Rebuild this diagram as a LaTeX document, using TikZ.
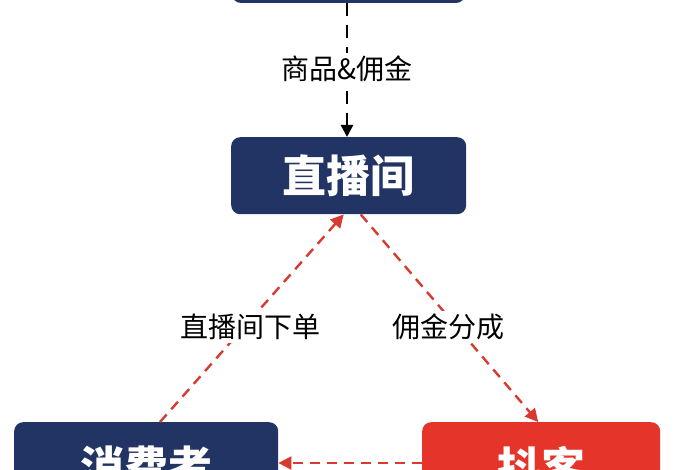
\documentclass[tikz,border=0pt]{standalone}
\usepackage{fontspec}
\newfontfamily\cjk{Noto Sans CJK SC}
\usetikzlibrary{arrows.meta}
\definecolor{navy}{HTML}{213463}
\definecolor{hred}{HTML}{E5352A}
\definecolor{dred}{HTML}{D93A30}
\tikzset{
 box/.style={rounded corners=9pt,draw=none,text=white,font=\cjk\bfseries\fontsize{44}{44}\selectfont,inner sep=0pt,anchor=north west},
 lbl/.style={font=\cjk\fontsize{28}{28}\selectfont,fill=white,inner sep=3pt},
 rarr/.style={dred,line width=2.4pt,dash pattern=on 10pt off 7pt,-{Triangle[length=13pt,width=13pt]}},
 karr/.style={black,line width=2.4pt,dash pattern=on 13pt off 9pt,-{Triangle[length=12pt,width=12pt]}}
}
\begin{document}
\begin{tikzpicture}[x=1pt,y=-1pt]
\useasboundingbox[fill=white] (0,0) rectangle (700,470);
\fill[navy,rounded corners=9pt] (232,-60) rectangle (465,3);
\coordinate (topb) at (347,3);
\node[box,fill=navy,minimum width=235pt,minimum height=77pt] (live) at (231,137) {直播间};
\node[box,fill=navy,minimum width=264pt,minimum height=90pt] (cons) at (14,422) {\raisebox{-3pt}{消费者}};
\node[box,fill=hred,minimum width=238pt,minimum height=90pt] (dk) at (422,422) {\raisebox{-3pt}{抖客}};
\draw[karr] (topb) -- (live.north -| topb);
\node[lbl] at (347,69) {商品\&佣金};
\draw[rarr] (dk.west |- 0,463) -- (cons.east |- 0,463);
\draw[rarr] (cons.north west) ++(146,0) -- ([xshift=-5pt]live.south);
\draw[rarr] ([xshift=12pt]live.south) -- ([xshift=-3pt]dk.north);
\node[lbl] at (250,327) {直播间下单};
\node[lbl] at (448,327) {佣金分成};
\end{tikzpicture}
\end{document}
